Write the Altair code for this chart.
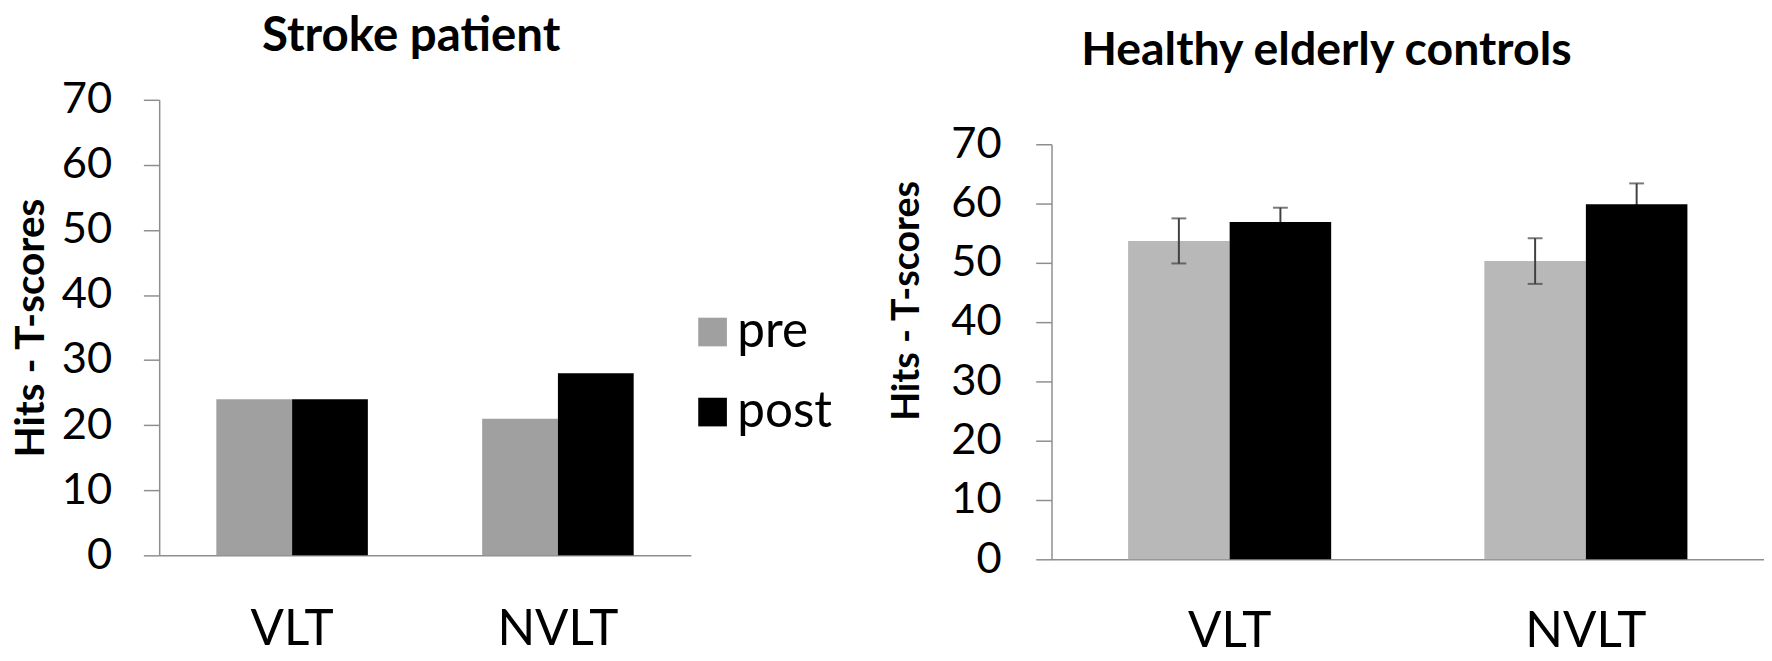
import altair as alt
import pandas as pd

tests = ["VLT", "NVLT"]
phases = ["pre", "post"]

stroke_pre = [24, 21]
stroke_post = [24, 28]

healthy_pre = [53.7, 50.3]
healthy_post = [56.9, 59.9]
healthy_pre_err = [3.8, 3.85]
healthy_post_err = [2.4, 3.5]

y_ticks = [0, 10, 20, 30, 40, 50, 60, 70]

FONT = "Lato"
AXIS_GRAY = "#8e8e8e"

stroke_df = pd.DataFrame({
    "test": tests * 2,
    "phase": ["pre"] * 2 + ["post"] * 2,
    "value": stroke_pre + stroke_post,
})

healthy_df = pd.DataFrame({
    "test": tests * 2,
    "phase": ["pre"] * 2 + ["post"] * 2,
    "value": healthy_pre + healthy_post,
    "err": healthy_pre_err + healthy_post_err,
})
healthy_df["lo"] = healthy_df["value"] - healthy_df["err"]
healthy_df["hi"] = healthy_df["value"] + healthy_df["err"]


def x_enc(pad):
    return alt.X(
        "test:N", sort=tests,
        scale=alt.Scale(paddingInner=0.43, paddingOuter=0.215),
        axis=alt.Axis(title=None, labelAngle=0, ticks=False, tickSize=0,
                      labelFont=FONT, labelFontSize=50, labelColor="#000000",
                      labelBaseline="alphabetic", labelPadding=pad,
                      domainColor=AXIS_GRAY, domainWidth=1.5),
    )


def xoff_enc():
    return alt.XOffset("phase:N", sort=phases,
                       scale=alt.Scale(domain=phases, paddingInner=0, paddingOuter=0))


def y_axis(title_padding, title_size, label_padding, title_y=None):
    kw = dict(values=y_ticks, title="Hits - T-scores", grid=False,
              tickSize=16, tickColor=AXIS_GRAY, tickWidth=1.5,
              domainColor=AXIS_GRAY, domainWidth=1.5,
              labelFont=FONT, labelFontSize=44, labelColor="#000000",
              labelPadding=label_padding,
              titleFont=FONT, titleFontSize=title_size, titleFontWeight="bold",
              titleColor="#000000", titlePadding=title_padding)
    if title_y is not None:
        kw["titleY"] = title_y
    return alt.Axis(**kw)


left = alt.Chart(stroke_df).mark_bar().encode(
    x=x_enc(90),
    xOffset=xoff_enc(),
    y=alt.Y("value:Q", scale=alt.Scale(domain=[0, 70]), axis=y_axis(9, 41, 32)),
    color=alt.Color("phase:N", sort=phases,
                    scale=alt.Scale(domain=phases, range=["#a0a0a0", "#000000"]),
                    legend=alt.Legend(title=None, orient="none", legendX=535, legendY=210,
                                      symbolType="square", symbolSize=841,
                                      symbolStrokeWidth=0, labelFont=FONT,
                                      labelFontSize=50, labelColor="#000000",
                                      labelOffset=0, rowPadding=31, padding=0)),
).properties(
    width=538, height=461,
    title=alt.TitleParams("Stroke patient", font=FONT, fontSize=48, fontWeight="bold",
                          color="#000000", anchor="start", frame="group", dx=104,
                          offset=17),
)

base_r = alt.Chart(healthy_df).encode(x=x_enc(88), xOffset=xoff_enc())
yr = alt.Y("value:Q", scale=alt.Scale(domain=[0, 70], range=[465, 45]),
           axis=y_axis(25, 38, 35, 203))
col_r = alt.Color("phase:N", sort=phases,
                  scale=alt.Scale(domain=phases, range=["#b8b8b8", "#000000"]),
                  legend=None)

pre_r = base_r.transform_filter(alt.datum.phase == "pre").mark_bar().encode(y=yr, color=col_r)
post_r = base_r.transform_filter(alt.datum.phase == "post").mark_bar().encode(y=yr, color=col_r)
err_rule = base_r.mark_rule(color="#404040", strokeWidth=2).encode(
    y=alt.Y("lo:Q"), y2="hi:Q")
cap_hi = base_r.mark_tick(color="#404040", thickness=2, size=15).encode(y=alt.Y("hi:Q"))
cap_lo = base_r.mark_tick(color="#404040", thickness=2, size=15).encode(y=alt.Y("lo:Q"))

right = alt.layer(pre_r, err_rule, cap_hi, cap_lo, post_r).properties(
    width=721, height=465,
    title=alt.TitleParams("Healthy elderly controls", font=FONT, fontSize=47,
                          fontWeight="bold", color="#000000", anchor="start",
                          frame="group", dx=30, offset=25),
)

chart = alt.hconcat(left, right, spacing=56).resolve_scale(
    color="independent", y="independent", x="independent", xOffset="independent"
).properties(
    padding={"left": 2, "top": 2, "right": 0, "bottom": 0}
).configure_view(stroke=None)

chart.save("out.html", embed_options={"renderer": "svg", "actions": False})
